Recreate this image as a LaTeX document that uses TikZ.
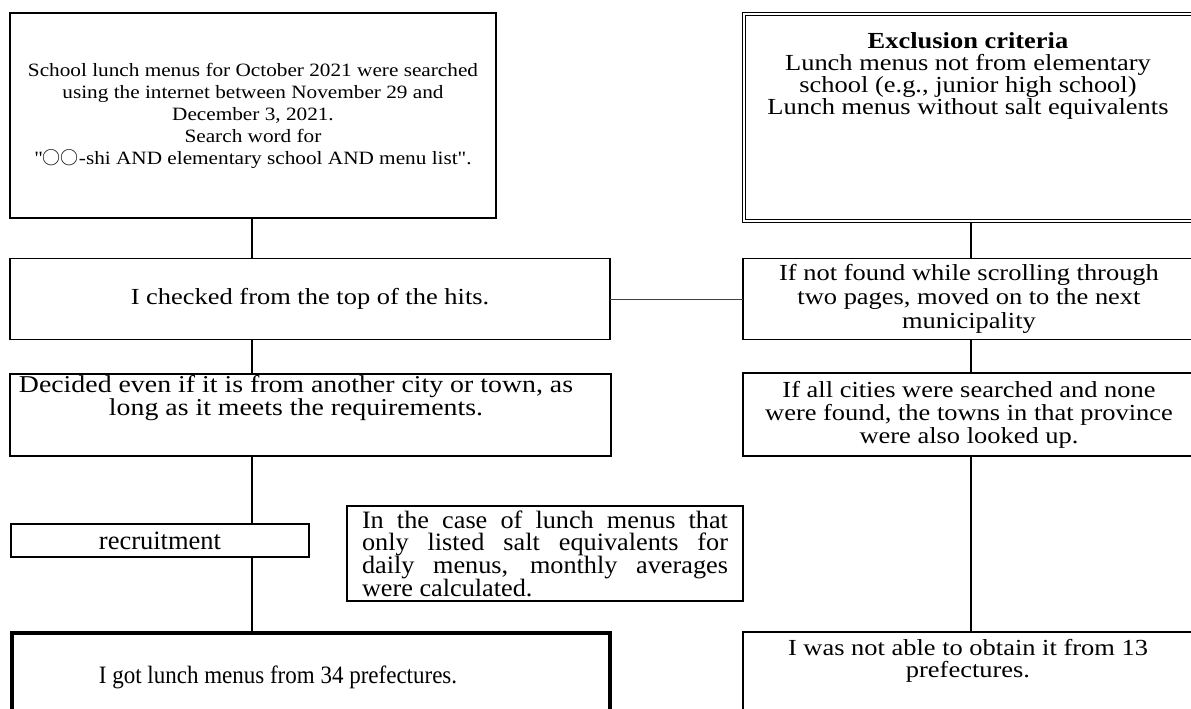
\documentclass[tikz,border=0pt]{standalone}
\usepackage{fontspec}
\setmainfont{Liberation Serif}[Ligatures=TeXOff]
\newfontfamily\boxfont{Liberation Serif}[Ligatures=TeXOff, FakeStretch=1.15]
\newfontfamily\topfont{Liberation Serif}[Ligatures=TeXOff, FakeStretch=1.13]
\newfontfamily\midfont{Liberation Serif}[FakeStretch=1.05]
\newfontfamily\gotfont{Liberation Serif}[FakeStretch=0.92]
\newfontfamily\cjk{Noto Sans CJK JP}
\newcommand{\ring}{{\cjk\fontsize{18}{18}\selectfont ○}}
\usetikzlibrary{positioning}

\begin{document}
\begin{tikzpicture}[x=1pt, y=-1pt,
  box/.style = {draw, rectangle, line width=1.6pt, inner sep=0pt, outer sep=0pt, anchor=north west},
  txt/.style = {align=center, inner sep=0pt, execute at begin node={\lineskiplimit=-100pt}},
  link/.style = {line width=1.6pt}]
  \useasboundingbox (0,0) rectangle (1191,709);

  % left column
  \node[box, minimum width=486pt, minimum height=205pt, txt,
        font=\topfont\fontsize{18.8}{22}\selectfont] (search) at (10,13)
    {School lunch menus for October 2021 were searched\\
     using the internet between November 29 and\\
     December 3, 2021.\\
     Search word for\\
     "\ring\ring-shi AND elementary school AND menu list".};
  \node[box, minimum width=600pt, minimum height=81pt, txt,
        font=\boxfont\fontsize{23}{26}\selectfont] (check) at (10,258.5)
    {I checked from the top of the hits.};
  \node[box, minimum width=601pt, minimum height=82pt] (decide) at (10,374) {};
  \node[txt, font=\boxfont\fontsize{24.2}{22.5}\selectfont] (decidetxt) at (296,398)
    {Decided even if it is from another city or town, as\\
     long as it meets the requirements.};
  \node[box, minimum width=298pt, minimum height=33pt, txt,
        font=\rmfamily\fontsize{26.5}{26}\selectfont] (recruit) at (11,524)
    {recruitment};
  \node[box, minimum width=396pt, minimum height=95pt, align=justify, text width=366pt,
        execute at begin node={\lineskiplimit=-100pt},
        font=\midfont\fontsize{25}{22.7}\selectfont] (average) at (347,506)
    {In the case of lunch menus that\linebreak
     only listed salt equivalents for\linebreak
     daily menus, monthly averages\linebreak
     were calculated.};
  \node[box, line width=3.6pt, minimum width=598pt, minimum height=100pt] (got) at (12,633) {};
  \node[txt, font=\gotfont\fontsize{25}{26}\selectfont] (gottxt) at (278,677)
    {I got lunch menus from 34 prefectures.};

  % right column
  \node[box, double, line width=1.1pt, double distance=2pt,
        minimum width=452pt, minimum height=207pt] (exclude) at (743.7,13.7) {};
  \node[txt, font=\boxfont\fontsize{23}{22}\selectfont] (excludetxt) at (968,76)
    {\textbf{Exclusion criteria}\\
     Lunch menus not from elementary\\
     school (e.g., junior high school)\\
     Lunch menus without salt equivalents};
  \node[box, minimum width=452pt, minimum height=81pt, txt,
        font=\boxfont\fontsize{23}{24}\selectfont] (scroll) at (743,258.5)
    {If not found while scrolling through\\
     two pages, moved on to the next\\
     municipality};
  \node[box, minimum width=452pt, minimum height=83pt, txt,
        font=\boxfont\fontsize{23}{23}\selectfont] (towns) at (743,373)
    {If all cities were searched and none\\
     were found, the towns in that province\\
     were also looked up.};
  \node[box, minimum width=452pt, minimum height=100pt] (fail) at (743,632) {};
  \node[txt, font=\boxfont\fontsize{23}{22}\selectfont] (failtxt) at (968,661)
    {I was not able to obtain it from 13\\
     prefectures.};

  \coordinate (lcol) at (252,0);
  \coordinate (rcol) at (971,0);

  \draw[link] (search.south -| lcol) -- (check.north -| lcol);
  \draw[link] (check.south -| lcol) -- (decide.north -| lcol);
  \draw[link] (decide.south -| lcol) -- (recruit.north -| lcol);
  \draw[link] (recruit.south -| lcol) -- (got.north -| lcol);
  \draw[link] ([yshift=-2pt]exclude.south -| rcol) -- (scroll.north -| rcol);
  \draw[link] (scroll.south -| rcol) -- (towns.north -| rcol);
  \draw[link] (towns.south -| rcol) -- (fail.north -| rcol);
  \draw[line width=1pt, black!75] (check.east) -- (scroll.west);
\end{tikzpicture}
\end{document}
